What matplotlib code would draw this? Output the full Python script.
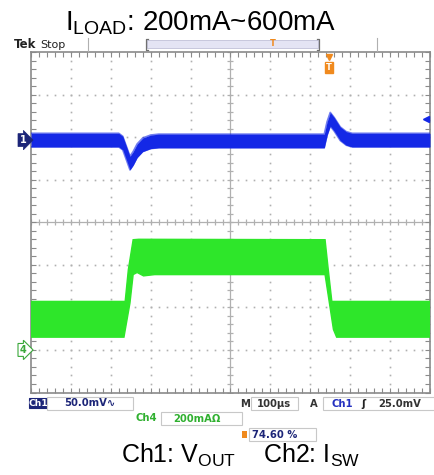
import numpy as np
import matplotlib
matplotlib.use('Agg')
import matplotlib.pyplot as plt
from matplotlib.patches import Rectangle
from matplotlib.transforms import blended_transform_factory

# ---------------- data (screen divisions) ----------------
ch1_offset = 1.93                      # Ch1 marker position (div)
ch1_t = [0.00, 2.20, 2.30, 2.40, 2.48, 2.56, 2.66, 2.80, 3.00, 3.20,
         7.35, 7.42, 7.50, 7.60, 7.75, 7.90, 8.05, 10.00]
ch1_v = [1.93, 1.93, 1.86, 1.60, 1.39, 1.50, 1.68, 1.82, 1.89, 1.91,
         1.91, 2.20, 2.42, 2.30, 2.08, 1.97, 1.93, 1.93]
ch1_noise = 0.16                       # half band width of the trace (div)

ch4_ground = -3.0                      # Ch4 marker position (div)
ch4_up_t = [0.00, 2.36, 2.44, 2.56, 2.70, 7.37, 7.45, 7.54, 10.00]
ch4_up_v = [-1.86, -1.86, -1.11, -0.41, -0.40, -0.41, -1.11, -1.86, -1.86]
ch4_lo_t = [0.00, 2.33, 2.48, 2.56, 2.66, 2.82, 3.10, 7.37, 7.58, 7.66, 10.00]
ch4_lo_v = [-2.70, -2.70, -1.90, -1.23, -1.18, -1.26, -1.23, -1.23, -2.52, -2.70, -2.70]

trig_pos = 7.47                        # trigger position (div)
ch1_mv_per_div = 50.0
trig_level_mv = 25.0

title_txt = r'$\mathrm{I_{LOAD}}$: 200mA~600mA'
caption_txt = r'Ch1: $\mathrm{V_{OUT}}$    Ch2: $\mathrm{I_{SW}}$'
ch1_scale = '50.0mV'
ch4_scale = '200mA'
timebase = '100µs'
trig_txt = '25.0mV'
duty_txt = '74.60 %'

# ---------------- style ----------------
plt.rcParams['mathtext.fontset'] = 'custom'
plt.rcParams['mathtext.rm'] = 'Liberation Sans'
plt.rcParams['mathtext.it'] = 'Liberation Sans'
plt.rcParams['mathtext.bf'] = 'Liberation Sans:bold'

W, H = 435, 475
fig = plt.figure(figsize=(W / 100, H / 100), dpi=100)
fig.patch.set_facecolor('white')

def fx(x):
    return x / W

def fy(y):
    return 1 - y / H

L, R, T, B = 31, 430, 52, 392.5
ax = fig.add_axes([fx(L), fy(B), (R - L) / W, (B - T) / H])
ax.set_xlim(0, 10)
ax.set_ylim(-4, 4)

BLUE = '#1428e6'
GREEN = '#2ee62a'
GRID = '#b0b0b0'
NAVY = '#1c2578'
ORANGE = '#f08a1e'

# frame and ticks
for s in ax.spines.values():
    s.set_color('#8a8a8a')
    s.set_linewidth(1.2)
ax.set_xticks(np.arange(0, 10.01, 1))
ax.set_yticks(np.arange(-4, 4.01, 1))
ax.set_xticks(np.arange(0, 10.01, 0.2), minor=True)
ax.set_yticks(np.arange(-4, 4.01, 0.2), minor=True)
ax.tick_params(which='both', direction='in', length=3.5, width=0.8,
               color='#8a8a8a', top=True, right=True,
               labelbottom=False, labelleft=False)

# dotted graticule
xs_minor = np.arange(0, 10.01, 0.2)
ys_minor = np.arange(-4, 4.01, 0.2)
for gx in range(1, 10):
    if gx == 5:
        continue
    ax.plot(np.full_like(ys_minor, gx), ys_minor, ls='none', marker='s',
            ms=1.2, color=GRID, mew=0, zorder=1)
for gy in range(-3, 4):
    if gy == 0:
        continue
    ax.plot(xs_minor, np.full_like(xs_minor, gy), ls='none', marker='s',
            ms=1.2, color=GRID, mew=0, zorder=1)
# center cross-hair with ticks
ax.axvline(5, color=GRID, lw=0.9, zorder=1)
ax.axhline(0, color=GRID, lw=0.9, zorder=1)
ax.plot(np.full_like(ys_minor, 5), ys_minor, ls='none', marker='_', ms=5,
        color=GRID, mew=0.9, zorder=1)
ax.plot(xs_minor, np.zeros_like(xs_minor), ls='none', marker='|', ms=5,
        color=GRID, mew=0.9, zorder=1)

# Ch1 trace (noise band)
t1 = np.array(ch1_t)
v1 = np.array(ch1_v)
ax.fill_between(t1, v1 - ch1_noise, v1 + ch1_noise, color=BLUE, lw=0, zorder=3)
ax.plot(t1, v1 + ch1_noise, color=BLUE, lw=1.2, alpha=0.6, zorder=3)
ax.plot(t1, v1 - ch1_noise, color=BLUE, lw=1.2, alpha=0.6, zorder=3)

# Ch4 trace (ripple band)
poly_x = np.concatenate([ch4_up_t, ch4_lo_t[::-1]])
poly_y = np.concatenate([ch4_up_v, ch4_lo_v[::-1]])
ax.fill(poly_x, poly_y, color=GREEN, lw=1.0, zorder=3)

# channel markers on left edge
btr = blended_transform_factory(ax.transAxes, ax.transData)
ax.text(-0.012, ch1_offset, '1', transform=btr, ha='right', va='center',
        fontsize=7, fontweight='bold', color='white', family='DejaVu Sans',
        bbox=dict(boxstyle='rarrow,pad=0.15', fc=NAVY, ec=NAVY, lw=0.5),
        clip_on=False, zorder=5)
ax.text(-0.012, ch4_ground, '4', transform=btr, ha='right', va='center',
        fontsize=7, fontweight='bold', color='#3aa83a', family='DejaVu Sans',
        bbox=dict(boxstyle='rarrow,pad=0.15', fc='white', ec='#3aa83a', lw=0.8),
        clip_on=False, zorder=5)

# trigger level marker (right edge)
trig_div = ch1_offset + trig_level_mv / ch1_mv_per_div
ax.plot([0.99], [trig_div], transform=btr, marker='<', ms=5,
        color=BLUE, clip_on=False, zorder=5)

# trigger position marker (top)
btr_t = blended_transform_factory(ax.transData, ax.transAxes)
ax.plot([trig_pos], [0.985], transform=btr_t, marker='v', ms=5,
        color=ORANGE, clip_on=False, zorder=5)
ax.text(trig_pos, 0.955, 'T', transform=btr_t, ha='center', va='center',
        fontsize=6, fontweight='bold', color='white', family='DejaVu Sans',
        bbox=dict(boxstyle='square,pad=0.12', fc=ORANGE, ec=ORANGE),
        zorder=5)

# ---------------- top strip ----------------
fig.text(fx(14), fy(45), 'Tek', fontsize=8.5, fontweight='bold',
         color='#222222', family='DejaVu Sans', ha='left', va='center')
fig.text(fx(40), fy(45), 'Stop', fontsize=8, color='#222222',
         family='DejaVu Sans', ha='left', va='center')
for xx in (88, 377):
    fig.add_artist(plt.Line2D([fx(xx), fx(xx)], [fy(38), fy(51)],
                              color='#b0b0b0', lw=0.8))
# record length bar
fig.add_artist(Rectangle((fx(147), fy(48)), fx(171), 8 / H,
                         fc='#e4e4f4', ec='#c0c0d8', lw=0.6))
for xx, d in ((146, 1), (319, -1)):
    fig.add_artist(plt.Line2D([fx(xx + 2 * d), fx(xx), fx(xx), fx(xx + 2 * d)],
                              [fy(39), fy(39), fy(50), fy(50)],
                              color='#707070', lw=0.9))
fig.text(fx(273), fy(44), 'T', fontsize=6, fontweight='bold', color=ORANGE,
         family='DejaVu Sans', ha='center', va='center')

# ---------------- title / caption ----------------
fig.text(fx(201), fy(30.5), title_txt, fontsize=20, family='Liberation Sans',
         ha='center', va='baseline', color='black')
fig.text(fx(241), fy(463), caption_txt, fontsize=18, family='Liberation Sans',
         ha='center', va='baseline', color='black')

# ---------------- status bar ----------------
def box(x0, y0, x1, y1, ec='#c8c8c8', fc='white'):
    fig.add_artist(Rectangle((fx(x0), fy(y1)), fx(x1 - x0), (y1 - y0) / H,
                             fc=fc, ec=ec, lw=0.8))

SB = dict(fontsize=7.2, fontweight='bold', family='DejaVu Sans',
          va='center', ha='left')
box(29, 398, 47, 408, ec=NAVY, fc=NAVY)
fig.text(fx(38), fy(403), 'Ch1', color='white',
         **{**SB, 'ha': 'center', 'fontsize': 6.6})
box(47, 397, 133, 410)
fig.text(fx(64), fy(403.5), ch1_scale + '∿', color=NAVY, **SB)

fig.text(fx(240), fy(404), 'M', color='#333333', **SB)
box(251, 397, 298, 410)
fig.text(fx(257), fy(404), timebase, color='#333333', **SB)
fig.text(fx(310), fy(404), 'A', color='#333333', **SB)
box(323, 397, 435, 410)
fig.text(fx(332), fy(404), 'Ch1', color='#2430c0', **SB)
fig.text(fx(361), fy(404), 'ʃ', color='#222222', **SB)
fig.text(fx(378), fy(404), trig_txt, color='#333333', **SB)

fig.text(fx(135), fy(418), 'Ch4', color='#30b030', **SB)
box(161, 412, 242, 425)
fig.text(fx(173), fy(418.5), ch4_scale + 'Ω', color='#30b030', **SB)

box(249, 428, 316, 441)
fig.add_artist(Rectangle((fx(242), fy(438)), fx(5), 7 / H, fc=ORANGE, ec='none'))
fig.text(fx(252), fy(434.5), duty_txt, color=NAVY, **SB)

fig.savefig('out.png', dpi=100, facecolor='white')
